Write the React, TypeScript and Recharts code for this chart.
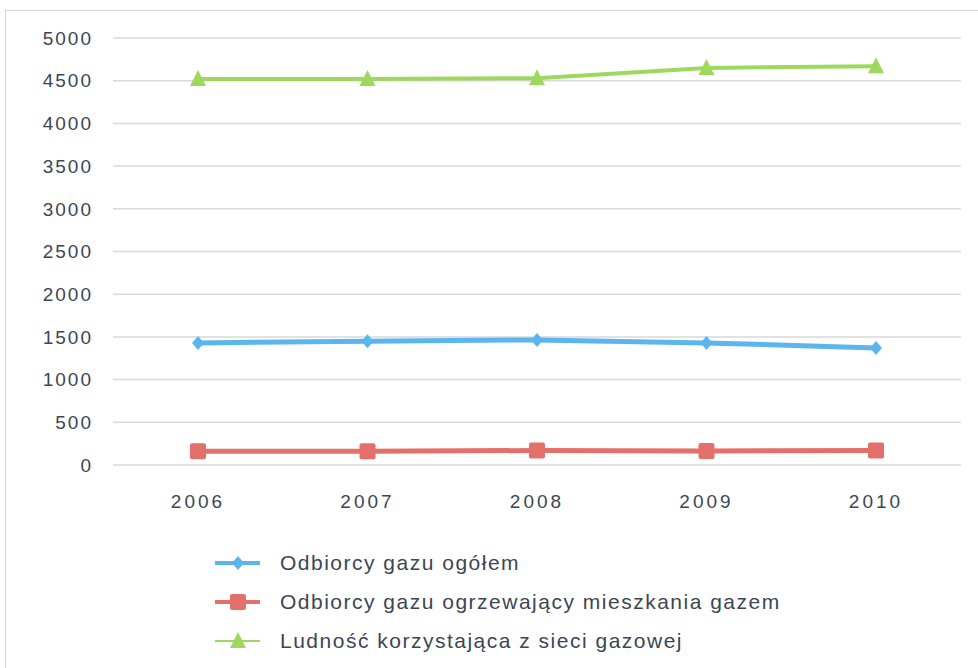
import { LineChart, Line, XAxis, YAxis, CartesianGrid, Legend } from 'recharts';

const years = ['2006', '2007', '2008', '2009', '2010'];
const odbiorcyOgolem = [1430, 1450, 1465, 1430, 1370];
const odbiorcyOgrzewajacy = [160, 160, 170, 165, 170];
const ludnosc = [4520, 4520, 4530, 4650, 4670];
const yTicks = [0, 500, 1000, 1500, 2000, 2500, 3000, 3500, 4000, 4500, 5000];

const series = [
  { key: 'ogolem', name: 'Odbiorcy gazu ogółem', color: '#5bb5ee', marker: 'diamond' },
  { key: 'ogrzewajacy', name: 'Odbiorcy gazu ogrzewający mieszkania gazem', color: '#e4706c', marker: 'square' },
  { key: 'ludnosc', name: 'Ludność korzystająca z sieci gazowej', color: '#9ed85e', marker: 'triangle' },
];

const data = years.map((year, i) => ({
  year,
  ogolem: odbiorcyOgolem[i],
  ogrzewajacy: odbiorcyOgrzewajacy[i],
  ludnosc: ludnosc[i],
}));

const font = 'Liberation Sans, Arial, sans-serif';

function Marker({ cx, cy, type, color }: { cx: number; cy: number; type: string; color: string }) {
  if (cx == null || cy == null) return null;
  if (type === 'diamond') {
    return <polygon points={`${cx},${cy - 7} ${cx + 6},${cy} ${cx},${cy + 7} ${cx - 6},${cy}`} fill={color} />;
  }
  if (type === 'square') {
    return <rect x={cx - 8} y={cy - 8} width={16} height={16} rx={2} fill={color} />;
  }
  return <polygon points={`${cx},${cy - 9} ${cx + 8},${cy + 7} ${cx - 8},${cy + 7}`} fill={color} />;
}

function LegendBox() {
  return (
    <div style={{ paddingLeft: 215, paddingTop: 10, fontFamily: font, fontSize: 21, letterSpacing: 1.5, color: '#3d4654' }}>
      {series.map(s => (
        <div key={s.key} style={{ display: 'flex', alignItems: 'center', height: 39 }}>
          <svg width={45} height={20} style={{ marginRight: 20 }}>
            <line x1={0} y1={10} x2={45} y2={10} stroke={s.color} strokeWidth={s.key === 'ludnosc' ? 2 : 4} />
            <Marker cx={23} cy={10} type={s.marker} color={s.color} />
          </svg>
          <span>{s.name}</span>
        </div>
      ))}
    </div>
  );
}

export default function App() {
  return (
    <div style={{ position: 'absolute', left: 0, top: 0, width: 978, height: 668, background: '#fff' }}>
      <div style={{ position: 'absolute', left: 5, top: 10, width: 972, height: 657, border: '1px solid #d8d8d8', borderRight: 'none', borderBottom: 'none' }} />
      <LineChart width={978} height={668} data={data} margin={{ top: 38, right: 17, left: 0, bottom: 0 }}>
        <CartesianGrid vertical={false} stroke="#d9d9d9" strokeWidth={1.5} />
        <XAxis
          dataKey="year"
          axisLine={false}
          tickLine={false}
          padding={{ left: 85, right: 85 }}
          height={68}
          tickMargin={24}
          tick={{ fill: '#3d4654', fontSize: 19, letterSpacing: 3, fontFamily: font }}
        />
        <YAxis
          domain={[0, 5000]}
          ticks={yTicks}
          axisLine={false}
          tickLine={false}
          width={113}
          tickMargin={14}
          tick={{ fill: '#3d4654', fontSize: 19, letterSpacing: 2, fontFamily: font }}
        />
        <Legend verticalAlign="bottom" height={135} content={() => <LegendBox />} />
        {series.map(s => (
          <Line
            key={s.key}
            dataKey={s.key}
            name={s.name}
            stroke={s.color}
            strokeWidth={s.key === 'ludnosc' ? 4 : 5}
            isAnimationActive={false}
            dot={(p: any) => <Marker key={`${s.key}-${p.index}`} cx={p.cx} cy={p.cy} type={s.marker} color={s.color} />}
          />
        ))}
      </LineChart>
    </div>
  );
}
